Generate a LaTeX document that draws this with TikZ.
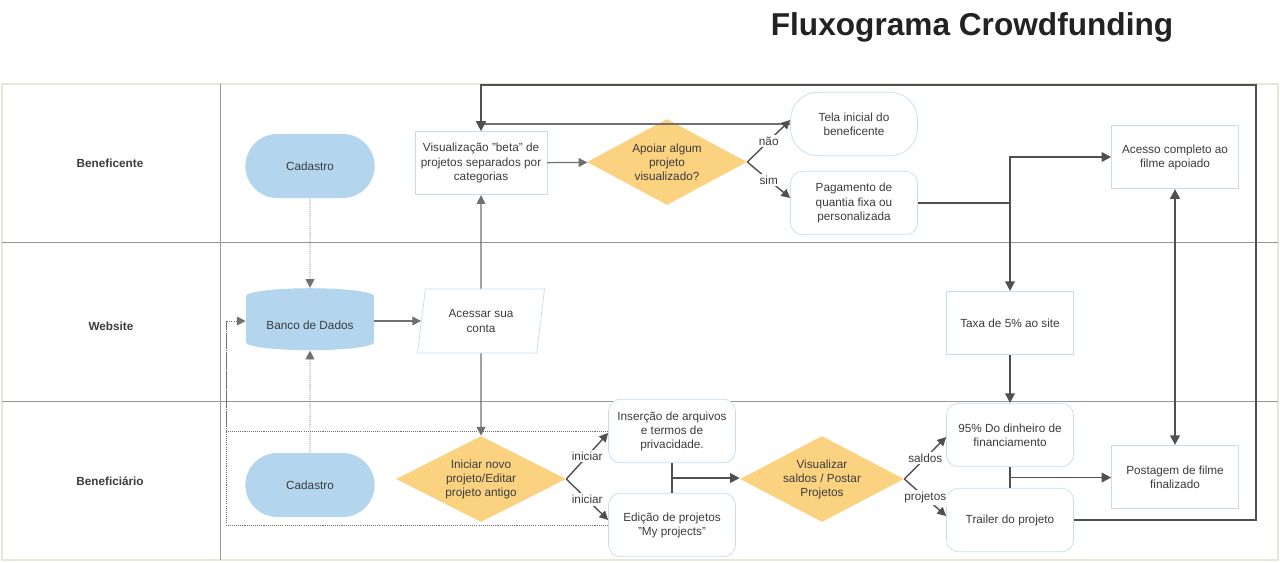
\documentclass[tikz,border=0pt]{standalone}
\usepackage{fontspec}
\setmainfont{Liberation Sans}
\definecolor{TitleColor}{RGB}{34,34,34}
\definecolor{TextColor}{RGB}{60,60,60}
\definecolor{StartColor}{RGB}{179,214,238}
\definecolor{DecisionColor}{RGB}{250,210,128}
\definecolor{BorderColor}{RGB}{196,222,238}
\definecolor{DarkLineColor}{RGB}{80,80,80}
\definecolor{GrayLineColor}{RGB}{112,112,112}
\definecolor{LaneColor}{RGB}{150,150,150}
\definecolor{FrameColor}{RGB}{230,232,215}
\usetikzlibrary{positioning, arrows.meta, shapes.geometric, shapes.misc, calc}
\tikzstyle{boxtext} = [font=\fontsize{6.7}{8}\selectfont, text=TextColor, align=center]
\tikzstyle{lanelabel} = [font=\bfseries\fontsize{6.7}{8}\selectfont, text=TextColor]
\tikzstyle{pill} = [rounded rectangle, boxtext, fill=StartColor, minimum width=2.82cm, minimum height=1.28cm]
\tikzstyle{database} = [cylinder, shape border rotate=90, aspect=0.16, boxtext, fill=StartColor, minimum width=2.56cm, minimum height=1.24cm]
\tikzstyle{process} = [rectangle, boxtext, draw=BorderColor, fill=white, minimum width=2.54cm, minimum height=1.27cm]
\tikzstyle{roundbox} = [process, rounded corners=0.24cm]
\tikzstyle{homebox} = [process, rounded corners=0.55cm]
\tikzstyle{inputbox} = [trapezium, trapezium left angle=77, trapezium right angle=103, trapezium stretches body, boxtext, draw=BorderColor, fill=white, minimum width=2.54cm, minimum height=1.28cm]
\tikzstyle{decision} = [diamond, aspect=2, inner sep=0pt, boxtext, fill=DecisionColor, minimum height=1.72cm]
\tikzstyle{edgelabel} = [font=\fontsize{6.7}{8}\selectfont, text=TextColor, fill=white, inner sep=1pt]
\tikzstyle{grayarrow} = [line width=0.7pt, GrayLineColor, -{Triangle[length=5pt, width=5pt]}]
\tikzstyle{brancharrow} = [line width=0.8pt, DarkLineColor, -{Triangle[length=5pt, width=5pt]}]
\tikzstyle{darkline} = [line width=1.1pt, DarkLineColor]
\tikzstyle{darkarrow} = [darkline, -{Triangle[length=5.5pt, width=5.5pt]}]
\tikzstyle{darkboth} = [darkline, {Triangle[length=5.5pt, width=5.5pt]}-{Triangle[length=5.5pt, width=5.5pt]}]
\tikzstyle{dotline} = [line width=0.5pt, GrayLineColor, dash pattern=on 0.6pt off 0.6pt]
\tikzstyle{dotarrow} = [dotline, -{Triangle[length=5pt, width=5pt]}]

\begin{document}
\begin{tikzpicture}[x=0.02cm, y=-0.02cm]
    \useasboundingbox (0,0) rectangle (1280,562);

    % Title
    \node[font=\bfseries\fontsize{18}{20}\selectfont, text=TitleColor] (title) at (972,27) {Fluxograma Crowdfunding};

    % Lanes
    \draw[FrameColor, line width=1pt] (2,84) rectangle (1278,560);
    \draw[LaneColor] (2,242) -- (1278,242);
    \draw[LaneColor] (2,401) -- (1278,401);
    \draw[LaneColor] (220,84) -- (220,560);
    \node[lanelabel] (laneA) at (110,163) {Beneficente};
    \node[lanelabel] (laneB) at (111,326) {Website};
    \node[lanelabel] (laneC) at (110,481) {Beneficiário};

    % Beneficente
    \node[pill] (cadA) at (310,166) {Cadastro};
    \node[process] (vis) at (481,163) {Visualização "beta" de\\projetos separados por\\categorias};
    \node[decision, minimum width=3.2cm] (apoiar) at (667,162) {Apoiar algum\\projeto\\visualizado?};
    \node[homebox] (tela) at (854,124) {Tela inicial do\\beneficente};
    \node[roundbox] (pag) at (854,203) {Pagamento de\\quantia fixa ou\\personalizada};
    \node[process] (acesso) at (1175,157) {Acesso completo ao\\filme apoiado};

    % Website
    \node[database] (banco) at (310,325) {Banco de Dados};
    \node[inputbox] (acessar) at (481,321) {Acessar sua\\conta};
    \node[process] (taxa) at (1010,323) {Taxa de 5\% ao site};

    % Beneficiario
    \node[pill] (cadB) at (310,485) {Cadastro};
    \node[decision, minimum width=3.4cm] (iniciar) at (481,479) {Iniciar novo\\projeto/Editar\\projeto antigo};
    \node[roundbox] (insercao) at (672,431) {Inserção de arquivos\\e termos de\\privacidade.};
    \node[roundbox] (edicao) at (672,525) {Edição de projetos\\"My projects"};
    \node[decision, minimum width=3.28cm] (saldos) at (822,479) {Visualizar\\saldos / Postar\\Projetos};
    \node[roundbox] (dinheiro) at (1010,435) {95\% Do dinheiro de\\financiamento};
    \node[roundbox] (trailer) at (1010,520) {Trailer do projeto};
    \node[process] (postagem) at (1175,477) {Postagem de filme\\finalizado};

    % Cadastro / banco de dados
    \coordinate (dotcorner) at (226,321);
    \draw[dotarrow] (cadA) -- (banco);
    \draw[dotarrow] (cadB) -- (banco);
    \draw[dotarrow] (insercao.west) -| (dotcorner) -- (dotcorner -| banco.west);
    \draw[dotline] (edicao.west) -| (dotcorner);

    % Acesso ao site
    \draw[grayarrow] (banco.east |- acessar.west) -- (acessar.west);
    \draw[grayarrow] (acessar) -- (vis);
    \draw[grayarrow] (acessar) -- (iniciar);
    \draw[grayarrow] (vis) -- (apoiar);
    \draw[grayarrow] (tela.west) -| (vis.north);

    % Decisoes
    \draw[brancharrow] (apoiar.east) -- ([yshift=0.08cm]tela.west) node[edgelabel, pos=0.5] {não};
    \draw[brancharrow] (apoiar.east) -- ([yshift=0.1cm]pag.west) node[edgelabel, pos=0.5] {sim};
    \draw[brancharrow] (iniciar.east) -- ([yshift=-0.04cm]insercao.west) node[edgelabel, pos=0.5] {iniciar};
    \draw[brancharrow] (iniciar.east) -- ([yshift=0.1cm]edicao.west) node[edgelabel, pos=0.5] {iniciar};
    \draw[brancharrow] (saldos.east) -- ([yshift=-0.04cm]dinheiro.west) node[edgelabel, pos=0.5] {saldos};
    \draw[brancharrow] (saldos.east) -- ([yshift=0.08cm]trailer.west) node[edgelabel, pos=0.5] {projetos};

    % Fluxo do dinheiro
    \coordinate (insjoin) at ($(insercao.south)!0.5!(edicao.north)$);
    \draw[darkline] (insercao) -- (edicao);
    \draw[darkarrow] (insjoin) -- (insjoin -| saldos.west);
    \coordinate (pagjoin) at (taxa.north |- pag.east);
    \draw[darkline] (pag.east) -- (pagjoin);
    \draw[darkarrow] (pagjoin) |- (acesso.west);
    \draw[darkarrow] (pagjoin) -- (taxa.north);
    \draw[darkarrow] (taxa) -- (dinheiro);
    \coordinate (finjoin) at ($(dinheiro.south)!0.5!(trailer.north)$);
    \draw[darkline] (dinheiro) -- (trailer);
    \draw[darkarrow] (finjoin) -- (finjoin -| postagem.west);
    \draw[darkboth] (acesso) -- (postagem);
    \coordinate (loopcorner) at (1256,85);
    \draw[darkarrow] (trailer.east) -| (loopcorner) -| (vis.north);
\end{tikzpicture}
\end{document}
